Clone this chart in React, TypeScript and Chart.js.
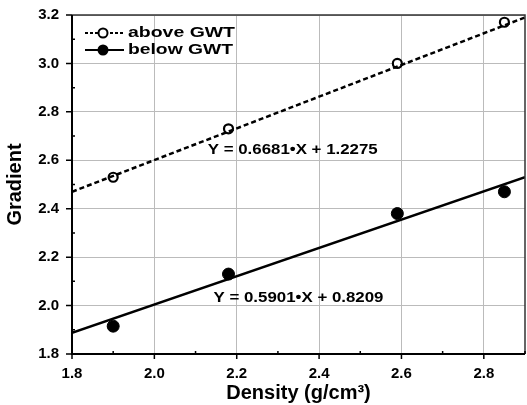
import React, { useEffect, useRef } from "react";
import { Chart, registerables } from "chart.js";

Chart.register(...registerables);

const densityAbove = [1.9, 2.18, 2.59, 2.85];
const gradientAbove = [2.53, 2.73, 3.0, 3.17];
const densityBelow = [1.9, 2.18, 2.59, 2.85];
const gradientBelow = [1.915, 2.13, 2.38, 2.47];
const fitX = [1.8, 2.9];
const fitAbove = [2.47, 3.19];
const fitBelow = [1.887, 2.53];
const xTicks = [1.8, 2.0, 2.2, 2.4, 2.6, 2.8];
const yTicks = [1.8, 2.0, 2.2, 2.4, 2.6, 2.8, 3.0, 3.2];
const xMinor = [1.9, 2.1, 2.3, 2.5, 2.7, 2.9];
const yMinor = [1.9, 2.1, 2.3, 2.5, 2.7, 2.9, 3.1];
const seriesNames = ["above GWT", "below GWT"];
const equations = ["Y = 0.6681\u2022X + 1.2275", "Y = 0.5901\u2022X + 0.8209"];
const equationPos = [
  [2.336, 2.641],
  [2.35, 2.03],
];

const FONT = "'Liberation Sans', Arial, sans-serif";

function stretchText(ctx: any, text: string, x: number, y: number, width: number, align: string) {
  const w = ctx.measureText(text).width;
  const s = width / w;
  ctx.save();
  ctx.translate(x, y);
  ctx.scale(s, 1);
  ctx.textAlign = "left";
  const dx = align === "center" ? -w / 2 : 0;
  ctx.fillText(text, dx, 0);
  ctx.restore();
}

const decor = {
  id: "decor",
  afterDraw(chart: any) {
    const ctx = chart.ctx;
    const { left, right, top, bottom } = chart.chartArea;
    const xs = chart.scales.x;
    const ys = chart.scales.y;
    ctx.save();
    // frame
    ctx.strokeStyle = "#333";
    ctx.lineWidth = 1.5;
    ctx.beginPath();
    ctx.moveTo(left, top);
    ctx.lineTo(right, top);
    ctx.lineTo(right, bottom);
    ctx.stroke();
    ctx.strokeStyle = "#000";
    ctx.lineWidth = 2;
    ctx.beginPath();
    ctx.moveTo(left, top);
    ctx.lineTo(left, bottom);
    ctx.lineTo(right, bottom);
    ctx.stroke();
    // major ticks
    ctx.lineWidth = 1.5;
    ctx.beginPath();
    xTicks.forEach((v) => {
      const p = xs.getPixelForValue(v);
      ctx.moveTo(p, bottom);
      ctx.lineTo(p, bottom + 5);
    });
    yTicks.forEach((v) => {
      const p = ys.getPixelForValue(v);
      ctx.moveTo(left, p);
      ctx.lineTo(left - 6, p);
    });
    // minor ticks
    xMinor.forEach((v) => {
      const p = xs.getPixelForValue(v);
      ctx.moveTo(p, bottom);
      ctx.lineTo(p, bottom - 3);
    });
    yMinor.forEach((v) => {
      const p = ys.getPixelForValue(v);
      ctx.moveTo(left, p);
      ctx.lineTo(left + 3, p);
    });
    ctx.stroke();

    // equations
    ctx.fillStyle = "#000";
    ctx.font = `bold 15px ${FONT}`;
    ctx.textBaseline = "middle";
    equations.forEach((t, i) => {
      stretchText(ctx, t, xs.getPixelForValue(equationPos[i][0]), ys.getPixelForValue(equationPos[i][1]), 170, "center");
    });

    // legend
    const lx0 = 85;
    const lx1 = 124;
    const ly = [33, 50];
    ctx.font = `bold 14px ${FONT}`;
    ly.forEach((y, i) => {
      ctx.strokeStyle = "#000";
      ctx.lineWidth = 2;
      ctx.setLineDash(i === 0 ? [3, 2] : []);
      ctx.beginPath();
      ctx.moveTo(lx0, y);
      ctx.lineTo(lx1, y);
      ctx.stroke();
      ctx.setLineDash([]);
      ctx.beginPath();
      ctx.arc(103, y, i === 0 ? 4.5 : 5.5, 0, Math.PI * 2);
      if (i === 0) {
        ctx.fillStyle = "#fff";
        ctx.fill();
        ctx.lineWidth = 2;
        ctx.stroke();
      } else {
        ctx.fillStyle = "#000";
        ctx.fill();
      }
      ctx.fillStyle = "#000";
      stretchText(ctx, seriesNames[i], 128, y, 107 - (i === 1 ? 2 : 0), "left");
    });
    ctx.restore();
  },
};

export default function App() {
  const ref = useRef<HTMLCanvasElement>(null);
  useEffect(() => {
    document.body.style.margin = "0";
    const toPts = (xs: number[], ys: number[]) => xs.map((x, i) => ({ x, y: ys[i] }));
    const chart = new Chart(ref.current as HTMLCanvasElement, {
      type: "scatter",
      data: {
        datasets: [
          {
            label: "fitAbove",
            data: toPts(fitX, fitAbove),
            showLine: true,
            borderColor: "#000",
            borderWidth: 2.5,
            borderDash: [5, 3],
            pointRadius: 0,
          },
          {
            label: "fitBelow",
            data: toPts(fitX, fitBelow),
            showLine: true,
            borderColor: "#000",
            borderWidth: 2.5,
            pointRadius: 0,
          },
          {
            label: seriesNames[0],
            data: toPts(densityAbove, gradientAbove),
            pointRadius: 4.5,
            pointBorderWidth: 2.2,
            pointBackgroundColor: "#fff",
            pointBorderColor: "#000",
          },
          {
            label: seriesNames[1],
            data: toPts(densityBelow, gradientBelow),
            pointRadius: 6,
            pointBackgroundColor: "#000",
            pointBorderColor: "#000",
          },
        ],
      },
      options: {
        animation: false,
        responsive: false,
        layout: { autoPadding: false, padding: { top: 15, right: 2, left: 0, bottom: 0 } },
        plugins: { legend: { display: false }, tooltip: { enabled: false } },
        scales: {
          x: {
            type: "linear",
            min: 1.8,
            max: 2.9,
            afterBuildTicks: (s: any) => {
              s.ticks = xTicks.map((v) => ({ value: v }));
            },
            afterFit: (s: any) => {
              s.height = 51;
              s.paddingLeft = 0;
              s.paddingRight = 0;
            },
            border: { display: false },
            grid: { color: "#bbb", lineWidth: 1, borderDash: [1, 2], drawTicks: false },
            ticks: {
              color: "#000",
              padding: 11,
              font: { family: FONT, size: 15, weight: "bold" },
              callback: (v: any) => Number(v).toFixed(1),
            },
            title: {
              display: true,
              text: "Density (g/cm\u00b3)",
              color: "#000",
              padding: { top: 0, bottom: 0 },
              font: { family: FONT, size: 20, weight: "bold" },
            },
          },
          y: {
            type: "linear",
            min: 1.8,
            max: 3.2,
            afterBuildTicks: (s: any) => {
              s.ticks = yTicks.map((v) => ({ value: v }));
            },
            afterFit: (s: any) => {
              s.width = 72;
              s.paddingTop = 0;
              s.paddingBottom = 0;
            },
            border: { display: false },
            grid: { color: "#bbb", lineWidth: 1, borderDash: [1, 2], drawTicks: false },
            ticks: {
              color: "#000",
              padding: 13,
              font: { family: FONT, size: 15, weight: "bold" },
              callback: (v: any) => Number(v).toFixed(1),
            },
            title: {
              display: true,
              text: "Gradient",
              color: "#000",
              padding: { top: 3, bottom: 0 },
              font: { family: FONT, size: 20, weight: "bold" },
            },
          },
        },
      },
      plugins: [decor],
    } as any);
    return () => chart.destroy();
  }, []);
  return <canvas ref={ref} width={527} height={405} style={{ display: "block" }} />;
}
